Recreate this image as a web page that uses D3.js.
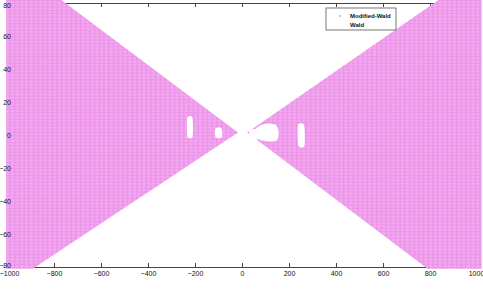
<!DOCTYPE html>
<html lang="en">
<head>
	<meta charset="UTF-8">
	<title>Modified-Wald vs Wald</title>
<script src="https://cdn.jsdelivr.net/npm/d3@7"></script>
<style>
  body { margin:0; background:#fff; }
  text { font-family: "Liberation Sans", Arial, sans-serif; }
</style>
</head>
<body>
<script type="text/javascript">

var W = 483, H = 290;

// tick values
var xTicks = [-1000, -800, -600, -400, -200, 0, 200, 400, 600, 800, 1000];
var yTicks = [-80, -60, -40, -20, 0, 20, 40, 60, 80];

// outline of the Modified-Wald points
var leftWedge  = [[-1004, 82.5], [-775, 82.5], [-17, 1.5], [-890, -81], [-1004, -81]];
var rightWedge = [[1020, 82.5], [843, 82.5], [22, 1.5], [790, -81], [1020, -81]];

// empty spots inside the region
var holeA = [[-233, 10.5], [-211, 10.5], [-210, -1], [-232, -1]];
var holeB = [[-113, 4], [-87, 4], [-86, -1.5], [-112, -1.5]];
var holeC = [[32, 3], [60, 4], [80, 6], [115, 7], [145, 6], [156, 2], [150, -3], [120, -4], [80, -3], [50, -2], [33, 0]];
var holeD = [[238, 6], [264, 6], [266, -6.5], [240, -6.5]];

var legendNames = ["Modified-Wald", "Wald"];

var x = d3.scaleLinear().domain([-1000, 1000]).range([7, 477]);
var y = d3.scaleLinear().domain([-80, 80]).range([267, 3]);
var fmt = d3.format('d');

var svg = d3.select('body').append('svg')
  .attr('width', W)
  .attr('height', H);

var defs = svg.append('defs');
var pat = defs.append('pattern')
  .attr('id', 'dots')
  .attr('patternUnits', 'userSpaceOnUse')
  .attr('width', 4.7)
  .attr('height', 3.3);
pat.append('rect').attr('width', 4.7).attr('height', 3.3).attr('fill', '#f3a8f0');
pat.append('rect').attr('x', 0).attr('width', 1.2).attr('height', 3.3).attr('fill', '#e88ae4').attr('opacity', 0.7);
pat.append('rect').attr('y', 0).attr('width', 4.7).attr('height', 1).attr('fill', '#e88ae4').attr('opacity', 0.6);

function ticksOnly(g) {
  g.selectAll('text').remove();
  g.selectAll('path, line').attr('stroke', '#444').attr('stroke-width', 1);
}
function labelsOnly(g) {
  g.select('.domain').remove();
  g.selectAll('line').remove();
  g.selectAll('text').attr('fill', '#111').style('font-size', '7px');
}

// axis lines and ticks (under the points)
svg.append('g').attr('transform', 'translate(0,' + y(-80) + ')')
  .call(d3.axisBottom(x).tickValues(xTicks).tickSizeInner(-4).tickSizeOuter(0)).call(ticksOnly);
svg.append('g').attr('transform', 'translate(0,' + y(80) + ')')
  .call(d3.axisTop(x).tickValues(xTicks).tickSizeInner(-4).tickSizeOuter(0)).call(ticksOnly);
svg.append('g').attr('transform', 'translate(' + x(-1000) + ',0)')
  .call(d3.axisLeft(y).tickValues(yTicks).tickSizeInner(-4).tickSizeOuter(0)).call(ticksOnly);
svg.append('g').attr('transform', 'translate(' + x(1000) + ',0)')
  .call(d3.axisRight(y).tickValues(yTicks).tickSizeInner(-4).tickSizeOuter(0)).call(ticksOnly);

// Modified-Wald region
var line = d3.line().x(function (d) { return x(d[0]); }).y(function (d) { return y(d[1]); });
var blob = d3.line().x(function (d) { return x(d[0]); }).y(function (d) { return y(d[1]); })
  .curve(d3.curveCardinalClosed.tension(0.3));

svg.selectAll('path.wedge')
  .data([leftWedge, rightWedge])
  .enter().append('path')
  .attr('class', 'wedge')
  .attr('d', function (d) { return line(d) + 'Z'; })
  .attr('fill', 'url(#dots)');

svg.selectAll('path.hole')
  .data([holeA, holeB, holeC, holeD])
  .enter().append('path')
  .attr('class', 'hole')
  .attr('d', blob)
  .attr('fill', '#fff');

// tick labels
var xl = svg.append('g').attr('transform', 'translate(0,' + y(-80) + ')')
  .call(d3.axisBottom(x).tickValues(xTicks).tickFormat(fmt).tickSize(0).tickPadding(4)).call(labelsOnly);
xl.selectAll('text').attr('dx', function (d) { return d === -1000 ? 2 : (d === 1000 ? -1 : 0); });
var yl = svg.append('g').attr('transform', 'translate(' + x(-1000) + ',0)')
  .call(d3.axisLeft(y).tickValues(yTicks).tickFormat(fmt).tickSize(0).tickPadding(-4)).call(labelsOnly);
yl.selectAll('text').attr('dy', function (d) { return d === 80 ? '0.6em' : (d === -80 ? '0.1em' : '0.32em'); });

// legend
var lg = svg.append('g').attr('transform', 'translate(326,8)');
lg.append('rect').attr('width', 70).attr('height', 22)
  .attr('fill', '#fff').attr('stroke', '#555').attr('stroke-width', 0.8);
lg.selectAll('text.lab')
  .data(legendNames)
  .enter().append('text')
  .attr('class', 'lab')
  .attr('x', 24)
  .attr('y', function (d, i) { return 8 + i * 9; })
  .attr('dy', '0.35em')
  .style('font-size', '6px')
  .style('font-weight', 'bold')
  .attr('fill', '#111')
  .text(function (d) { return d; });
lg.append('circle').attr('cx', 14).attr('cy', 8).attr('r', 0.9).attr('fill', '#e88ae4');

</script>
</body>
</html>
